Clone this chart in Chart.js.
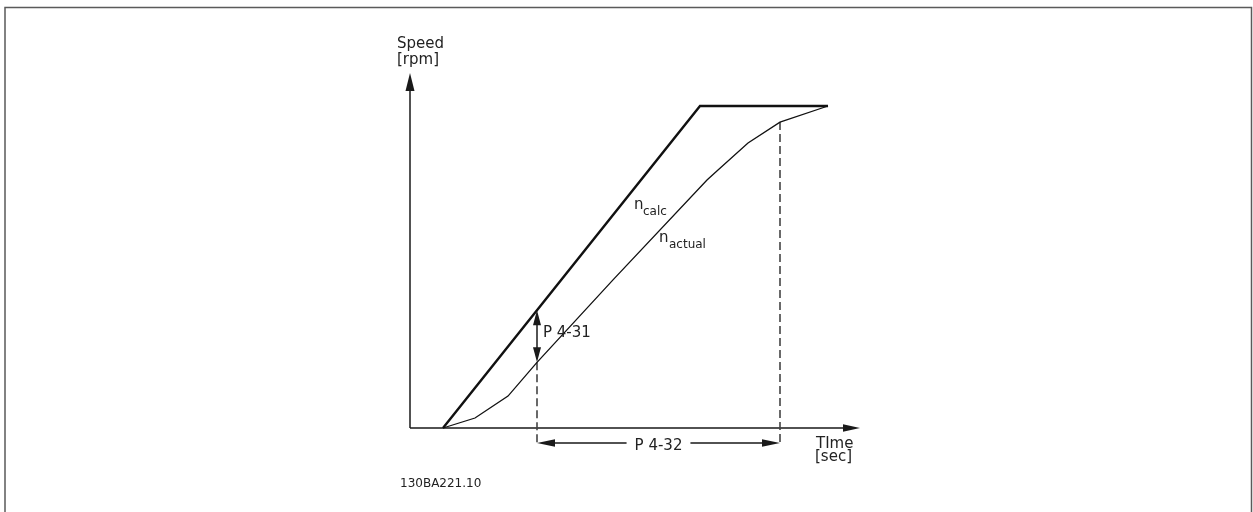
<!DOCTYPE html>
<html>
<head>
<meta charset="utf-8">
<script src="https://cdn.jsdelivr.net/npm/chart.js@4.4.1/dist/chart.umd.min.js"></script>
<style>
  html, body { margin: 0; padding: 0; background: #ffffff; }
  #wrap { position: relative; width: 1253px; height: 512px; }
  canvas { display: block; }
</style>
</head>
<body>
<div id="wrap"><canvas id="c" width="1253" height="512"></canvas></div>
<script>
// ---- data (time in arbitrary sec units, speed in % of final speed) ----
const timeCalc    = [3.3, 29.0, 41.8];
const speedCalc   = [0, 100, 100];
const timeActual  = [3.3, 6.5, 9.8, 12.7, 20.3, 29.7, 30.8, 33.8, 37.0, 41.8];
const speedActual = [0, 3.1, 9.9, 20.4, 46.0, 77.0, 80.1, 88.5, 95.0, 100];
const trackErrTime   = 12.7;   // P 4-31 measured here
const trackStartTime = 12.7;   // P 4-32 interval start
const trackEndTime   = 37.0;   // P 4-32 interval end
const axisTime  = [0, 45];
const axisSpeed = [0, 110.25];
const yTitle   = ["Speed", "[rpm]"];
const xTitle   = ["TIme", "[sec]"];
const calcLabel   = ["n", "calc"];
const actualLabel = ["n", "actual"];
const p431 = "P 4-31";
const p432 = "P 4-32";
const docCode = "130BA221.10";

function interp(xs, ys, t) {
  for (let i = 0; i < xs.length - 1; i++) {
    if (t >= xs[i] && t <= xs[i + 1]) {
      return ys[i] + (ys[i + 1] - ys[i]) * (t - xs[i]) / (xs[i + 1] - xs[i]);
    }
  }
  return ys[ys.length - 1];
}
const zip = (xs, ys) => xs.map((x, i) => ({ x: x, y: ys[i] }));
const dimLow = -4.66; // level of the P 4-32 dimension line (below time axis)

const calcAtErr   = interp(timeCalc, speedCalc, trackErrTime);
const actualAtErr = interp(timeActual, speedActual, trackErrTime);
const actualAtEnd = interp(timeActual, speedActual, trackEndTime);

function arrowHead(ctx, tipX, tipY, dirX, dirY, len, half) {
  const bx = tipX - dirX * len, by = tipY - dirY * len;
  const px = -dirY, py = dirX;
  ctx.beginPath();
  ctx.moveTo(tipX, tipY);
  ctx.lineTo(bx + px * half, by + py * half);
  ctx.lineTo(bx - px * half, by - py * half);
  ctx.closePath();
  ctx.fill();
}

const diagram = {
  id: 'diagram',
  beforeDatasetsDraw(chart) {
    const ctx = chart.ctx;
    const xs = chart.scales.x, ys = chart.scales.y;
    const x0 = xs.getPixelForValue(axisTime[0]);
    const x1 = xs.getPixelForValue(axisTime[1]);
    const y0 = ys.getPixelForValue(axisSpeed[0]);
    const y1 = ys.getPixelForValue(axisSpeed[1]);
    ctx.save();
    // frame
    ctx.strokeStyle = '#5a5a5a';
    ctx.lineWidth = 1.5;
    ctx.beginPath();
    ctx.moveTo(5, 512); ctx.lineTo(5, 7.5); ctx.lineTo(1251.5, 7.5); ctx.lineTo(1251.5, 512);
    ctx.stroke();
    // axes
    ctx.strokeStyle = '#1a1a1a';
    ctx.fillStyle = '#1a1a1a';
    ctx.lineWidth = 1.5;
    ctx.beginPath();
    ctx.moveTo(x0, y0); ctx.lineTo(x0, y1 + 12);
    ctx.moveTo(x0, y0); ctx.lineTo(x1 - 12, y0);
    ctx.stroke();
    arrowHead(ctx, x0, y1, 0, -1, 18, 4.5);
    arrowHead(ctx, x1, y0, 1, 0, 17, 3.8);
    ctx.restore();
  },
  afterDatasetsDraw(chart) {
    const ctx = chart.ctx;
    const xs = chart.scales.x, ys = chart.scales.y;
    ctx.save();
    ctx.fillStyle = '#1a1a1a';
    ctx.strokeStyle = '#1a1a1a';
    // P 4-31 vertical dimension arrow
    const ex = xs.getPixelForValue(trackErrTime);
    const eTop = ys.getPixelForValue(calcAtErr);
    const eBot = ys.getPixelForValue(actualAtErr);
    ctx.lineWidth = 1.5;
    ctx.beginPath(); ctx.moveTo(ex, eTop + 10); ctx.lineTo(ex, eBot - 10); ctx.stroke();
    arrowHead(ctx, ex, eTop, 0, -1, 15, 4);
    arrowHead(ctx, ex, eBot, 0, 1, 15, 4);
    // P 4-32 horizontal dimension arrow
    const sx = xs.getPixelForValue(trackStartTime);
    const tx = xs.getPixelForValue(trackEndTime);
    const dy = ys.getPixelForValue(dimLow);
    const mid = (sx + tx) / 2;
    ctx.font = '15px "DejaVu Sans"';
    const w = ctx.measureText(p432).width;
    ctx.lineWidth = 1.6;
    ctx.beginPath();
    ctx.moveTo(sx + 10, dy); ctx.lineTo(mid - w / 2 - 8, dy);
    ctx.moveTo(mid + w / 2 + 8, dy); ctx.lineTo(tx - 10, dy);
    ctx.stroke();
    arrowHead(ctx, sx, dy, -1, 0, 18, 3.8);
    arrowHead(ctx, tx, dy, 1, 0, 18, 3.8);
    // texts
    ctx.fillStyle = '#222222';
    ctx.textBaseline = 'alphabetic';
    ctx.textAlign = 'left';
    ctx.font = '15px "DejaVu Sans"';
    ctx.fillText(yTitle[0], 397, 48);
    ctx.fillText(yTitle[1], 397, 64);
    ctx.fillText(xTitle[0], 816, 448);
    ctx.fillText(xTitle[1], 815, 461);
    ctx.fillText(p431, ex + 6, 337);
    ctx.textAlign = 'center';
    ctx.fillText(p432, mid, 450);
    ctx.textAlign = 'left';
    ctx.fillText(calcLabel[0], 634, 209);
    ctx.fillText(actualLabel[0], 659, 242);
    ctx.font = '12px "DejaVu Sans"';
    ctx.fillText(calcLabel[1], 643, 215);
    ctx.fillText(actualLabel[1], 669, 248);
    ctx.fillText(docCode, 400, 487);
    ctx.restore();
  }
};

new Chart(document.getElementById('c'), {
  type: 'scatter',
  data: {
    datasets: [
      { label: 'n calc', data: zip(timeCalc, speedCalc), showLine: true,
        borderColor: '#111111', borderWidth: 2.4, pointRadius: 0, tension: 0, clip: false },
      { label: 'n actual', data: zip(timeActual, speedActual), showLine: true,
        borderColor: '#111111', borderWidth: 1.3, pointRadius: 0, tension: 0, clip: false },
      { label: 'start', data: [{ x: trackStartTime, y: actualAtErr }, { x: trackStartTime, y: dimLow }],
        showLine: true, borderColor: '#444444', borderWidth: 1.6, borderDash: [8, 4],
        pointRadius: 0, clip: false },
      { label: 'end', data: [{ x: trackEndTime, y: actualAtEnd }, { x: trackEndTime, y: dimLow }],
        showLine: true, borderColor: '#444444', borderWidth: 1.6, borderDash: [8, 4],
        pointRadius: 0, clip: false }
    ]
  },
  options: {
    responsive: false,
    animation: false,
    devicePixelRatio: 1,
    layout: { padding: { left: 410, right: 393, top: 73, bottom: 84 } },
    plugins: { legend: { display: false }, tooltip: { enabled: false }, title: { display: false } },
    scales: {
      x: { type: 'linear', display: false, min: axisTime[0], max: axisTime[1] },
      y: { type: 'linear', display: false, min: axisSpeed[0], max: axisSpeed[1] }
    }
  },
  plugins: [diagram]
});
</script>
</body>
</html>
